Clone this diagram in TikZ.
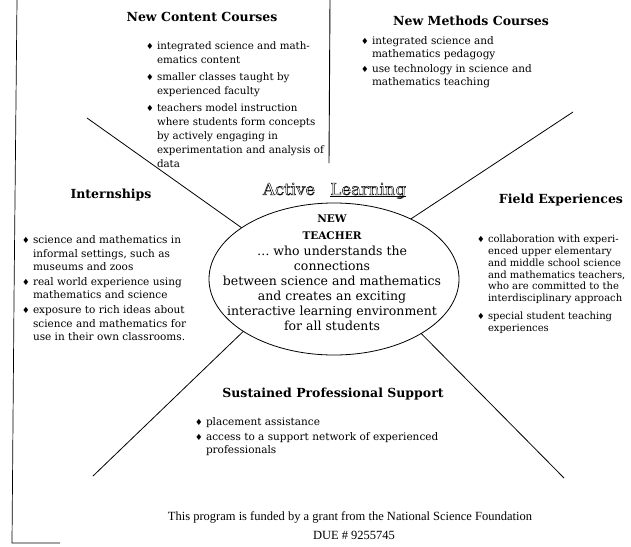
\documentclass[tikz,border=0pt]{standalone}
\usepackage{fontspec}
\setmainfont{DejaVu Serif}
\newfontfamily\timesf{Liberation Serif}
\newfontfamily\symf{DejaVu Sans}
\usetikzlibrary{shapes.geometric}
\newcommand\dia{{\symf\fontsize{8.5}{8}\selectfont ♦}}
\newcommand\itm{\makebox[11pt][l]{\dia}}
\newcommand\ind{\hspace*{11pt}}
\newcommand\outl[1]{\special{pdf:literal direct 1 Tr 0.45 w}#1\special{pdf:literal direct 0 Tr}}
\begin{document}
\begin{tikzpicture}[x=1pt,y=-1pt,
  every node/.style={inner sep=0pt, outer sep=0pt},
  head/.style={font=\fontsize{12.5}{15}\bfseries\selectfont, anchor=center},
  blist/.style={anchor=north west, align=left, font=\fontsize{10.5}{13.5}\selectfont},
  spoke/.style={line width=0.8pt},
  alfont/.style={font=\fontsize{16.5}{18}\selectfont}
]
\useasboundingbox (0,0) rectangle (631,546);

% frame lines of the sheet
\draw[line width=0.7pt] (17,0) -- (14,300) -- (12,543) -- (60,543);
\draw[line width=0.9pt] (330,0) -- (329,163);

% centre ellipse
\node[draw, ellipse, minimum width=250pt, minimum height=152pt, line width=0.8pt] (ell) at (334,279) {};
\node[anchor=north, align=center, font=\fontsize{12.5}{15}\selectfont] (teach) at (332,214.5)
  {{\fontsize{10.5}{12}\bfseries NEW}\\[2.5pt]
   {\fontsize{10.5}{12}\bfseries TEACHER}\\[0.5pt]
   \dots\ who understands the\\
   connections\\
   between science and mathematics\\
   and creates an exciting\\
   interactive learning environment\\
   for all students};

% Active Learning
\node[alfont, anchor=base west] (act) at (263,195) {\outl{Active}};
\node[alfont, anchor=base east] (lrn) at (406,195) {\outl{Learning}};
\draw[line width=0.6pt] ([yshift=-1.5pt]lrn.base west) -- ([yshift=-1.5pt]lrn.base east);

% spokes
\coordinate (pUL) at (87,118);
\coordinate (pUR) at (573,112);
\coordinate (pLL) at (93,476);
\coordinate (pLR) at (564,478);
\draw[spoke] (pUL) -- (ell.151);
\draw[spoke] (pUR) -- (ell.38);
\draw[spoke] (pLL) -- (ell.210);
\draw[spoke] (pLR) -- (ell.328);

% headings
\node[head] (hNC) at (202,17) {New Content Courses};
\node[head] (hNM) at (471,21) {New Methods Courses};
\node[head] (hIn) at (111,195) {Internships};
\node[head] (hFE) at (561,200) {Field Experiences};
\node[head] (hSP) at (333,394) {Sustained Professional Support};

% bullet lists
\node[blist, font=\fontsize{10.3}{13.9}\selectfont] (lNC) at (146,41.5)
  {\itm integrated science and math-\\\ind ematics content\\[3.5pt]%
   \itm smaller classes taught by\\\ind experienced faculty\\[3.5pt]%
   \itm teachers model instruction\\\ind where students form concepts\\\ind by actively engaging in\\\ind experimentation and analysis of\\\ind data};
\node[blist, font=\fontsize{10.5}{13}\selectfont] (lNM) at (361,36.5)
  {\itm integrated science and\\\ind mathematics pedagogy\\[2pt]%
   \itm use technology in science and\\\ind mathematics teaching};
\node[blist, font=\fontsize{10.5}{13.2}\selectfont] (lIn) at (22,236)
  {\itm science and mathematics in\\\ind informal settings, such as\\\ind museums and zoos\\[2pt]%
   \itm real world experience using\\\ind mathematics and science\\[2pt]%
   \itm exposure to rich ideas about\\\ind science and mathematics for\\\ind use in their own classrooms.};
\node[blist, font=\fontsize{10}{11.8}\selectfont] (lFE) at (477,235)
  {\itm collaboration with experi-\\\ind enced upper elementary\\\ind and middle school science\\\ind and mathematics teachers,\\\ind who are committed to the\\\ind interdisciplinary approach\\[6pt]%
   \itm special student teaching\\\ind experiences};
\node[blist, font=\fontsize{10.5}{12.5}\selectfont] (lSP) at (195,417.5)
  {\itm placement assistance\\[3pt]%
   \itm access to a support network of experienced\\\ind professionals};

% funding note
\node[font=\timesf\fontsize{12.5}{14}\selectfont] (fund) at (350,517) {This program is funded by a grant from the National Science Foundation};
\node[font=\timesf\fontsize{12.5}{14}\selectfont] (due) at (354,535) {DUE \# 9255745};
\end{tikzpicture}
\end{document}
